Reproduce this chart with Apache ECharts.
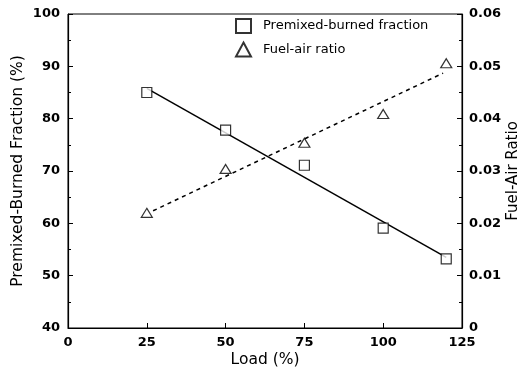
<!doctype html>
<html>
<head>
    <meta charset="utf-8">
    <title>Premixed-burned fraction vs load</title>
    <style>
        html, body { margin: 0; padding: 0; background: #fff; }
        #chart { width: 523px; height: 376px; }
    </style>
</head>
<body>
    <div id="chart"></div>
    <script src="https://cdn.jsdelivr.net/npm/echarts@6/dist/echarts.min.js"></script>
    <script>
        // values
        var load = [25, 50, 75, 100, 120];
        var premixed = [85, 77.8, 71.1, 59.1, 53.2];
        var fuelAir = [0.022, 0.0304, 0.0354, 0.0409, 0.0506];
        // end points of the two fitted lines as drawn
        var premixedFit = [[25, 85.8], [120, 53.5]];
        var fuelAirFit = [[27, 0.0224], [119, 0.0487]];

        var font = "'DejaVu Sans', Verdana, sans-serif";

        var pairs = function (xs, ys) {
            var out = [];
            for (var i = 0; i < xs.length; i++) {
                out.push([xs[i], ys[i]]);
            }
            return out;
        };

        var hollow = {
            color: '#fff',
            borderColor: '#000',
            borderWidth: 1.2
        };

        var tickLabel = { fontSize: 13, fontWeight: 'bold', color: '#000', fontFamily: font };

        var chart = echarts.init(document.getElementById('chart'));
        var option = {
            animation: false,
            textStyle: { fontFamily: font, color: '#000' },
            grid: {
                left: 68, right: 61, top: 14, bottom: 48,
                outerBoundsMode: 'none',
                show: true, borderColor: '#000', borderWidth: 1
            },
            legend: {
                data: ['Premixed-burned fraction', 'Fuel-air ratio'],
                orient: 'vertical',
                left: 230,
                top: 13,
                itemWidth: 15,
                itemHeight: 14,
                itemGap: 7.5,
                textStyle: {
                    fontSize: 13, fontFamily: font, color: '#000',
                    padding: [0, 0, 0, 7]
                }
            },
            xAxis: {
                type: 'value',
                min: 0, max: 125, interval: 25,
                name: 'Load (%)',
                nameLocation: 'middle',
                nameGap: 24,
                nameMoveOverlap: false,
                nameTextStyle: { fontSize: 15.5, color: '#000' },
                axisLine: { lineStyle: { color: '#000', width: 1.2 } },
                axisTick: { inside: true, length: 5, lineStyle: { color: '#000' } },
                axisLabel: Object.assign({ margin: 8 }, tickLabel),
                splitLine: { show: false }
            },
            yAxis: [{
                type: 'value',
                min: 40, max: 100, interval: 10,
                name: 'Premixed-Burned Fraction (%)',
                nameLocation: 'middle',
                nameGap: 42,
                nameMoveOverlap: false,
                nameRotate: 90,
                nameTextStyle: { fontSize: 15.5, color: '#000' },
                axisLine: { show: true, lineStyle: { color: '#000', width: 1.2 } },
                axisTick: { inside: true, length: 5, lineStyle: { color: '#000' } },
                minorTick: { show: true, splitNumber: 2, length: 3, lineStyle: { color: '#000' } },
                axisLabel: Object.assign({ margin: 8 }, tickLabel),
                splitLine: { show: false }
            }, {
                type: 'value',
                min: 0, max: 0.06, interval: 0.01,
                name: 'Fuel-Air Ratio',
                nameLocation: 'middle',
                nameGap: 44,
                nameMoveOverlap: false,
                nameRotate: 90,
                nameTextStyle: { fontSize: 15, color: '#000' },
                axisLine: { show: true, lineStyle: { color: '#000', width: 1.2 } },
                axisTick: { inside: true, length: 5, lineStyle: { color: '#000' } },
                minorTick: { show: true, splitNumber: 2, length: 3, lineStyle: { color: '#000' } },
                axisLabel: Object.assign({ margin: 7 }, tickLabel),
                splitLine: { show: false }
            }],
            series: [{
                name: 'premixed fit',
                type: 'line',
                data: premixedFit,
                symbol: 'none',
                lineStyle: { color: '#000', width: 1.5 },
                z: 2
            }, {
                name: 'fuel-air fit',
                type: 'line',
                yAxisIndex: 1,
                data: fuelAirFit,
                symbol: 'none',
                lineStyle: { color: '#000', width: 1.5, type: [4, 4] },
                z: 2
            }, {
                name: 'Premixed-burned fraction',
                type: 'scatter',
                data: pairs(load, premixed),
                symbol: 'rect',
                symbolSize: 10,
                itemStyle: hollow,
                z: 5
            }, {
                name: 'Fuel-air ratio',
                type: 'scatter',
                yAxisIndex: 1,
                data: pairs(load, fuelAir),
                symbol: 'triangle',
                symbolSize: [11, 9],
                itemStyle: hollow,
                z: 5
            }]
        };
        chart.setOption(option);
    </script>
</body>
</html>
